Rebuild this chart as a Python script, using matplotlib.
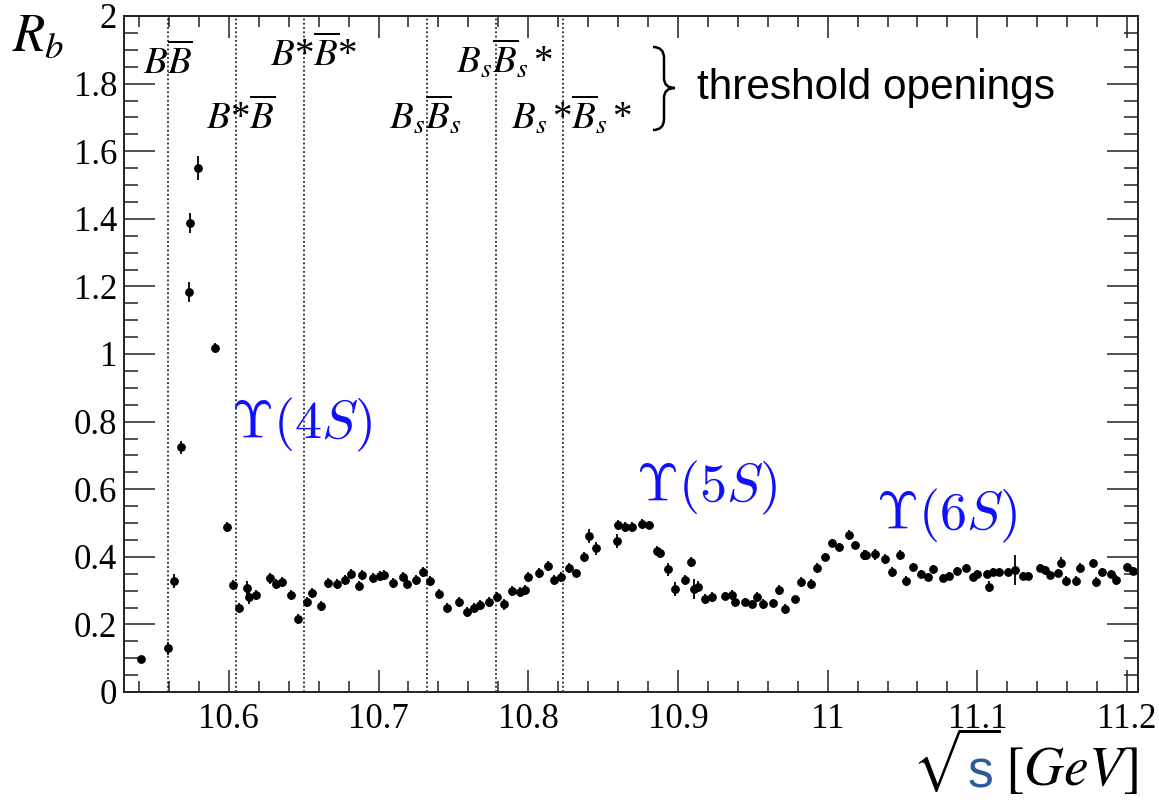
import numpy as np
import matplotlib
matplotlib.use("Agg")
import matplotlib.pyplot as plt
from matplotlib.ticker import MultipleLocator, FuncFormatter
from matplotlib.path import Path
from matplotlib.patches import PathPatch
from matplotlib.transforms import IdentityTransform

# R_b scan points: sqrt(s) [GeV], R_b, stat. error
sqrt_s = [
    10.5413, 10.5591, 10.5633, 10.5678, 10.5731, 10.5742, 10.5791, 10.5911,
    10.5985, 10.6025, 10.6067, 10.6120, 10.6133, 10.6182, 10.6278, 10.6313,
    10.6353, 10.6413, 10.6465, 10.6522, 10.6555, 10.6618, 10.6662, 10.6725,
    10.6778, 10.6818, 10.6869, 10.6887, 10.6965, 10.7011, 10.7040, 10.7100,
    10.7162, 10.7191, 10.7251, 10.7295, 10.7345, 10.7407, 10.7455, 10.7535,
    10.7589, 10.7640, 10.7678, 10.7740, 10.7789, 10.7835, 10.7889, 10.7947,
    10.7978, 10.8000, 10.8073, 10.8129, 10.8169, 10.8218, 10.8273, 10.8318,
    10.8373, 10.8407, 10.8451, 10.8591, 10.8600, 10.8645, 10.8696, 10.8758,
    10.8807, 10.8862, 10.8878, 10.8935, 10.8980, 10.9047, 10.9089, 10.9107,
    10.9133, 10.9180, 10.9225, 10.9313, 10.9358, 10.9380, 10.9447, 10.9495,
    10.9529, 10.9569, 10.9633, 10.9678, 10.9718, 10.9780, 10.9825, 10.9889,
    10.9929, 10.9985, 11.0030, 11.0073, 11.0140, 11.0180, 11.0240, 11.0255,
    11.0318, 11.0385, 11.0433, 11.0485, 11.0522, 11.0569, 11.0625, 11.0673,
    11.0707, 11.0773, 11.0811, 11.0862, 11.0922, 11.0973, 11.0995, 11.1062,
    11.1080, 11.1107, 11.1147, 11.1207, 11.1251, 11.1307, 11.1335, 11.1418,
    11.1451, 11.1485, 11.1540, 11.1562, 11.1589, 11.1662, 11.1685, 11.1773,
    11.1795, 11.1833, 11.1891, 11.1929, 11.2002, 11.2040,
]
r_b = [
    0.097, 0.129, 0.328, 0.724, 1.183, 1.388, 1.551, 1.017,
    0.489, 0.317, 0.248, 0.307, 0.280, 0.287, 0.336, 0.320,
    0.326, 0.287, 0.215, 0.267, 0.294, 0.254, 0.323, 0.320,
    0.331, 0.349, 0.314, 0.346, 0.338, 0.343, 0.346, 0.323,
    0.341, 0.319, 0.331, 0.356, 0.329, 0.290, 0.249, 0.267,
    0.236, 0.248, 0.257, 0.267, 0.280, 0.259, 0.299, 0.295,
    0.302, 0.341, 0.351, 0.373, 0.331, 0.341, 0.368, 0.353,
    0.400, 0.462, 0.425, 0.447, 0.494, 0.489, 0.487, 0.497,
    0.494, 0.418, 0.410, 0.363, 0.305, 0.331, 0.384, 0.304,
    0.312, 0.275, 0.282, 0.284, 0.287, 0.267, 0.267, 0.260,
    0.282, 0.260, 0.264, 0.302, 0.245, 0.275, 0.326, 0.319,
    0.366, 0.399, 0.442, 0.430, 0.464, 0.435, 0.405, 0.405,
    0.407, 0.393, 0.356, 0.405, 0.329, 0.369, 0.349, 0.341,
    0.363, 0.336, 0.343, 0.358, 0.366, 0.341, 0.349, 0.349,
    0.312, 0.356, 0.356, 0.356, 0.361, 0.343, 0.343, 0.366,
    0.361, 0.346, 0.351, 0.383, 0.328, 0.329, 0.366, 0.381,
    0.326, 0.356, 0.349, 0.331, 0.371, 0.359,
]
r_b_err = [
    0.008, 0.020, 0.020, 0.020, 0.030, 0.030, 0.035, 0.015,
    0.015, 0.015, 0.015, 0.020, 0.020, 0.015, 0.015, 0.015,
    0.015, 0.015, 0.015, 0.015, 0.015, 0.015, 0.015, 0.015,
    0.015, 0.015, 0.015, 0.015, 0.015, 0.015, 0.015, 0.015,
    0.015, 0.015, 0.015, 0.015, 0.015, 0.015, 0.015, 0.015,
    0.015, 0.015, 0.015, 0.015, 0.015, 0.015, 0.015, 0.015,
    0.015, 0.015, 0.015, 0.015, 0.015, 0.015, 0.015, 0.012,
    0.015, 0.020, 0.020, 0.020, 0.015, 0.015, 0.015, 0.015,
    0.012, 0.015, 0.015, 0.020, 0.020, 0.015, 0.015, 0.030,
    0.015, 0.015, 0.015, 0.012, 0.015, 0.015, 0.012, 0.012,
    0.015, 0.015, 0.010, 0.015, 0.015, 0.010, 0.015, 0.015,
    0.015, 0.012, 0.010, 0.010, 0.015, 0.010, 0.015, 0.015,
    0.015, 0.015, 0.015, 0.015, 0.015, 0.012, 0.012, 0.012,
    0.012, 0.012, 0.012, 0.012, 0.012, 0.012, 0.012, 0.012,
    0.015, 0.012, 0.012, 0.012, 0.045, 0.012, 0.012, 0.012,
    0.012, 0.012, 0.012, 0.015, 0.015, 0.015, 0.015, 0.012,
    0.015, 0.012, 0.012, 0.015, 0.012, 0.012,
]

# open-flavour thresholds
thr_pos = [10.5593, 10.6045, 10.6504, 10.7323, 10.7782, 10.8232]
thr_labels = [
    r"$B\overline{B}$",
    r"$B$*$\overline{B}$",
    r"$B$*$\overline{B}$*",
    r"$B_s\overline{B}_s$",
    r"$B_s\overline{B}_s\,$*",
    r"$B_s\,$*$\overline{B}_s\,$*",
]
thr_label_xy = [
    (10.5593, 1.858), (10.6080, 1.695), (10.6567, 1.882),
    (10.7313, 1.704), (10.7840, 1.870), (10.8293, 1.704),
]

# bottomonium resonances
res_labels = [r"$\Upsilon(4S)$", r"$\Upsilon(5S)$", r"$\Upsilon(6S)$"]
res_xy = [(10.6487, 0.790), (10.9193, 0.604), (11.0793, 0.521)]

W, H = 1159, 802
fig = plt.figure(figsize=(W / 100, H / 100), dpi=100)
ax = fig.add_axes([124 / W, 1 - 692 / H, (1138 - 124) / W, (692 - 16) / H])

ax.errorbar(sqrt_s, r_b, yerr=r_b_err, fmt="o", ms=5.3, color="black",
            ecolor="black", elinewidth=1.3, capsize=0)

for xt in thr_pos:
    ax.axvline(xt, color="black", lw=1.1, ls=(0, (1.2, 1.6)))

ax.set_xlim(10.53, 11.2073)
ax.set_ylim(0, 2)

ax.xaxis.set_major_locator(MultipleLocator(0.1))
ax.xaxis.set_minor_locator(MultipleLocator(0.02))
ax.yaxis.set_major_locator(MultipleLocator(0.2))
ax.yaxis.set_minor_locator(MultipleLocator(0.05))
fmt = FuncFormatter(lambda v, p: "%g" % round(v, 3))
ax.xaxis.set_major_formatter(fmt)
ax.yaxis.set_major_formatter(fmt)

ax.tick_params(which="both", direction="in", top=True, right=True,
               width=1.1, color="#222222", labelsize=25,
               labelfontfamily="Liberation Serif")
ax.tick_params(axis="x", which="major", length=16, pad=8)
ax.tick_params(axis="x", which="minor", length=8)
ax.tick_params(axis="y", which="major", length=22, pad=5)
ax.tick_params(axis="y", which="minor", length=10)
for sp in ax.spines.values():
    sp.set_linewidth(1.4)
    sp.set_color("#222222")

for lab, (xl, yl) in zip(thr_labels, thr_label_xy):
    ax.text(xl, yl, lab, fontsize=28, family="Liberation Serif",
            math_fontfamily="stix", ha="center", va="center")

for lab, (xl, yl) in zip(res_labels, res_xy):
    ax.text(xl, yl, lab, fontsize=39, color="#1010ff",
            math_fontfamily="cm", ha="center", va="center")

fig.text(697 / W, 1 - 88 / H, "threshold openings", fontsize=30.5,
         family="Liberation Sans", ha="left", va="center")

# thin curly brace in front of the note (figure pixels, y measured from top)
bx0, bxm, bx1 = 653, 664, 675
by0, bym, by1 = 47, 88, 130
brace_pts = [
    (bx0, by0), (bxm, by0), (bxm, by0 + 11),
    (bxm, bym - 10),
    (bxm, bym), (bx1, bym),
    (bxm, bym), (bxm, bym + 10),
    (bxm, by1 - 11),
    (bxm, by1), (bx0, by1),
]
brace_codes = [Path.MOVETO, Path.CURVE3, Path.CURVE3, Path.LINETO,
               Path.CURVE3, Path.CURVE3, Path.CURVE3, Path.CURVE3,
               Path.LINETO, Path.CURVE3, Path.CURVE3]
brace = Path([(px, H - py) for px, py in brace_pts], brace_codes)
fig.add_artist(PathPatch(brace, facecolor="none", edgecolor="black", lw=1.8,
                         transform=IdentityTransform()))

# axis titles
fig.text(12 / W, 1 - 36 / H, r"$R_b$", fontsize=38, math_fontfamily="stix",
         ha="left", va="center")
fig.text(912 / W, 1 - 794 / H, r"$\sqrt{\enspace\;}$", fontsize=36,
         math_fontfamily="stix", ha="left", va="bottom")
fig.text(980 / W, 1 - 774 / H, "s", fontsize=37, family="Liberation Sans",
         color="#2b5c95", ha="center", va="center")
fig.text(1005 / W, 1 - 770 / H, r"$[GeV]$", fontsize=40, math_fontfamily="stix",
         ha="left", va="center")

fig.savefig("out.png", dpi=100)
